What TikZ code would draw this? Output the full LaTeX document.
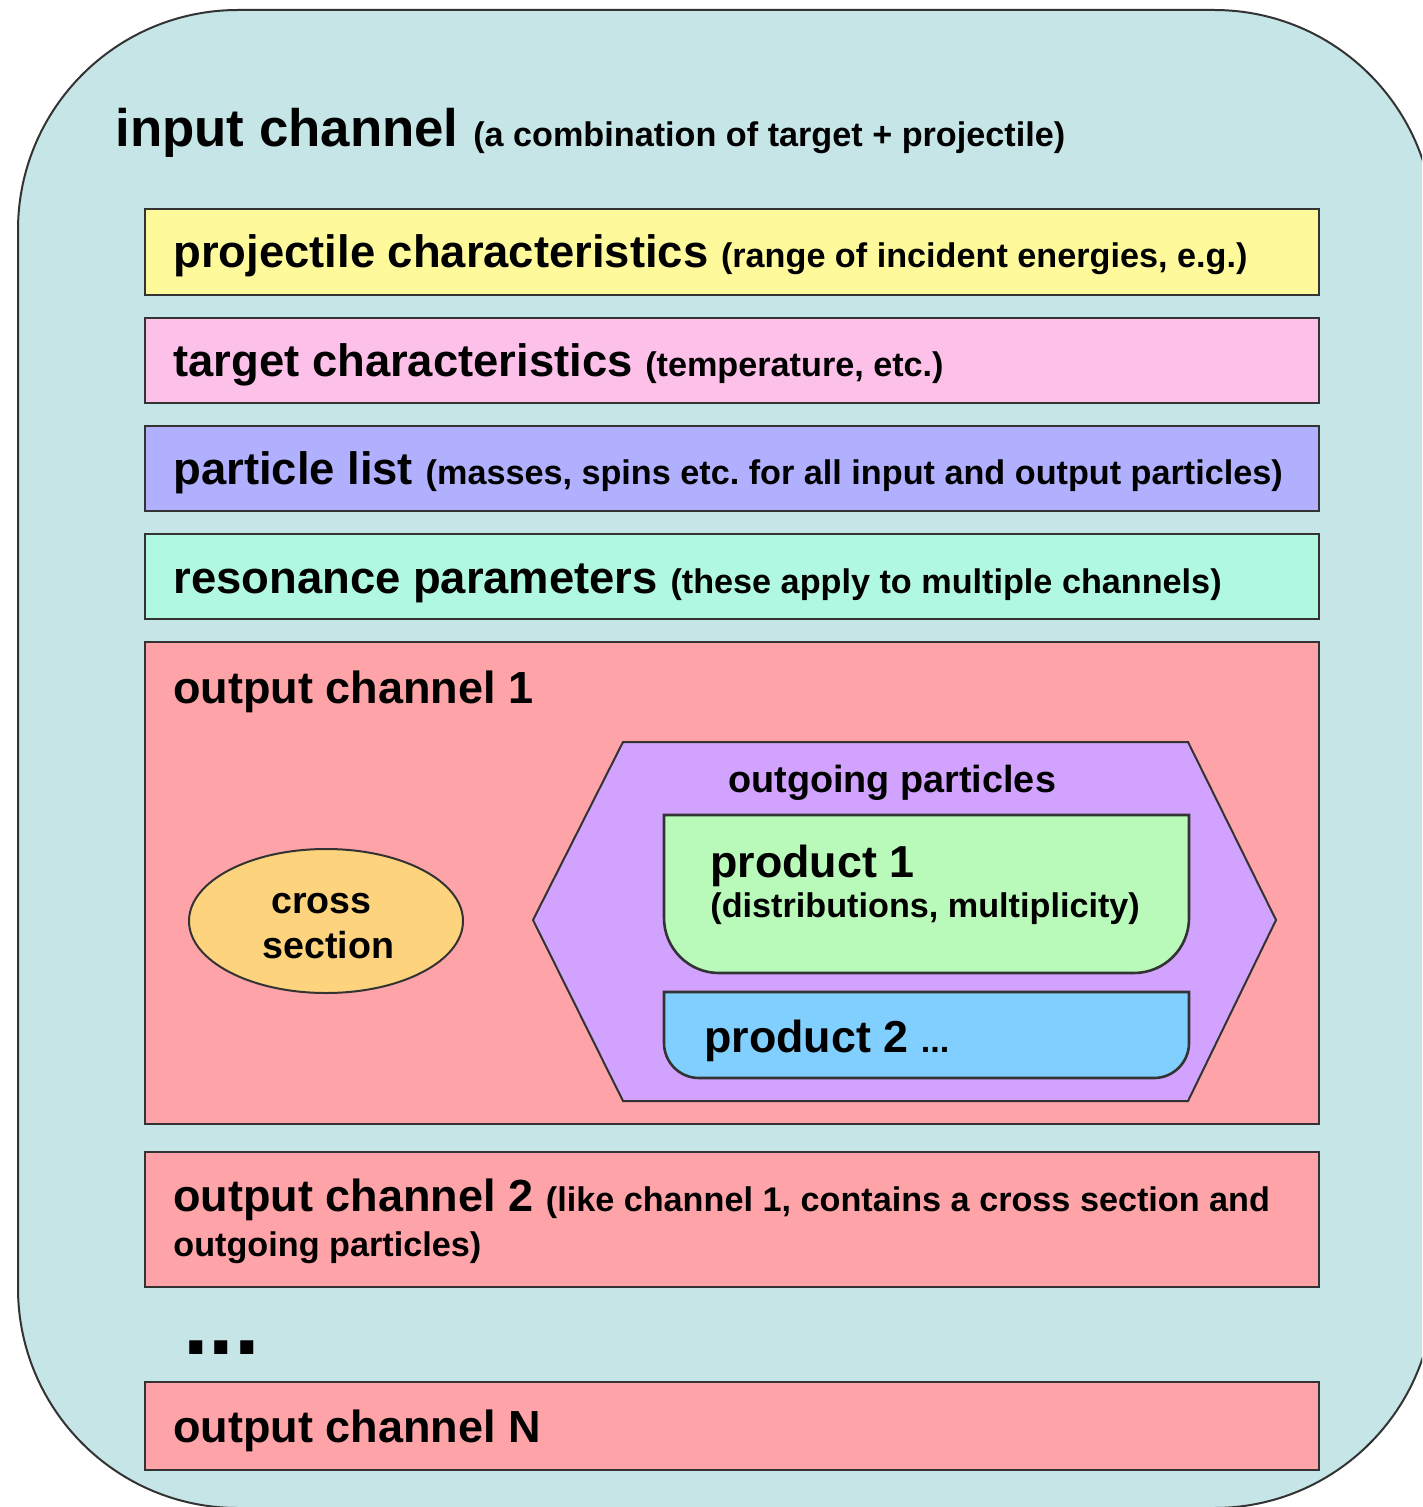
\documentclass[tikz,border=0pt]{standalone}
\usepackage{fontspec}
\setmainfont{Liberation Sans}
\frenchspacing
\newcommand\myfs[1]{\fontsize{#1}{#1}\selectfont}
\definecolor{outerc}{HTML}{C5E5E7}
\definecolor{yelc}{HTML}{FEFA9C}
\definecolor{pinkc}{HTML}{FDC1E9}
\definecolor{lavc}{HTML}{B0B0FE}
\definecolor{mintc}{HTML}{B0F8E2}
\definecolor{salc}{HTML}{FEA3A7}
\definecolor{purc}{HTML}{D1A3FE}
\definecolor{grnc}{HTML}{B9F9B9}
\definecolor{bluc}{HTML}{80CFFE}
\definecolor{orac}{HTML}{FDD37D}
\definecolor{edgec}{HTML}{333333}
\tikzset{
  box/.style={draw=edgec,line width=1.3pt},
  lbl/.style={anchor=base west,inner sep=0pt,font=\bfseries},
}
\begin{document}
\begin{tikzpicture}[x=0.5pt,y=0.5pt]
\clip (0,0) rectangle (1422,-1507);
\useasboundingbox (0,0) rectangle (1422,-1507);
% outer container
\draw[draw=edgec,line width=1pt,fill=outerc,rounded corners=110pt] (18,-10) rectangle (1434,-1508);
\node[lbl] (inch) at (115,-147) {\myfs{26.4}input channel {\myfs{17.1}(a combination of target + projectile)}};
% top boxes
\draw[box,fill=yelc] (145,-209) rectangle (1319,-295);
\node[lbl] (proj) at (173,-268) {\myfs{22.7}projectile characteristics {\myfs{17.1}(range of incident energies, e.g.)}};
\draw[box,fill=pinkc] (145,-318) rectangle (1319,-403);
\node[lbl] (targ) at (173,-377) {\myfs{22.7}target characteristics {\myfs{17.1}(temperature, etc.)}};
\draw[box,fill=lavc] (145,-426) rectangle (1319,-511);
\node[lbl] (plist) at (173,-485) {\myfs{22.7}particle list {\myfs{17.1}(masses, spins etc. for all input and output particles)}};
\draw[box,fill=mintc] (145,-534) rectangle (1319,-619);
\node[lbl] (reso) at (173,-593) {\myfs{22.7}resonance parameters {\myfs{17.1}(these apply to multiple channels)}};
% output channel 1
\draw[box,fill=salc] (145,-642) rectangle (1319,-1124);
\node[lbl] (oc1) at (173,-703) {\myfs{22.5}output channel 1};
\draw[draw=edgec,line width=1pt,fill=orac] (326,-921) ellipse[x radius=68.5pt,y radius=36pt];
\node[lbl] (cs1) at (271,-913) {\myfs{18.8}cross};
\node[lbl] (cs2) at (262,-958) {\myfs{18.8}section};
\draw[draw=edgec,line width=1pt,fill=purc] (533,-920) -- (623,-742) -- (1188,-742) -- (1276,-920) -- (1188,-1101) -- (623,-1101) -- cycle;
\node[lbl] (outp) at (728,-792) {\myfs{18.9}outgoing particles};
\draw[box,fill=grnc] (664,-815) -- (1189,-815) -- (1189,-918) arc[start angle=0,end angle=-90,radius=27.5pt] -- (719,-973) arc[start angle=270,end angle=180,radius=27.5pt] -- cycle;
\node[lbl] (p1) at (710,-877) {\myfs{22.4}product 1};
\node[lbl] (p1b) at (710,-917) {\myfs{17.1}(distributions, multiplicity)};
\draw[box,fill=bluc] (664,-992) -- (1189,-992) -- (1189,-1043) arc[start angle=0,end angle=-90,radius=17.5pt] -- (699,-1078) arc[start angle=270,end angle=180,radius=17.5pt] -- cycle;
\node[lbl] (p2) at (704,-1052) {\myfs{22.4}product 2 {\myfs{17.1}...}};
% output channel 2
\draw[box,fill=salc] (145,-1152) rectangle (1319,-1287);
\node[lbl] (oc2) at (173,-1211) {\myfs{22.5}output channel 2 {\myfs{17.1}(like channel 1, contains a cross section and}};
\node[lbl] (oc2b) at (173,-1256) {\myfs{17.1}outgoing particles)};
\node[lbl] (dots) at (183,-1354) {\myfs{46}...};
% output channel N
\draw[box,fill=salc] (145,-1382) rectangle (1319,-1470);
\node[lbl] (ocn) at (173,-1442) {\myfs{22.5}output channel N};
\end{tikzpicture}
\end{document}
